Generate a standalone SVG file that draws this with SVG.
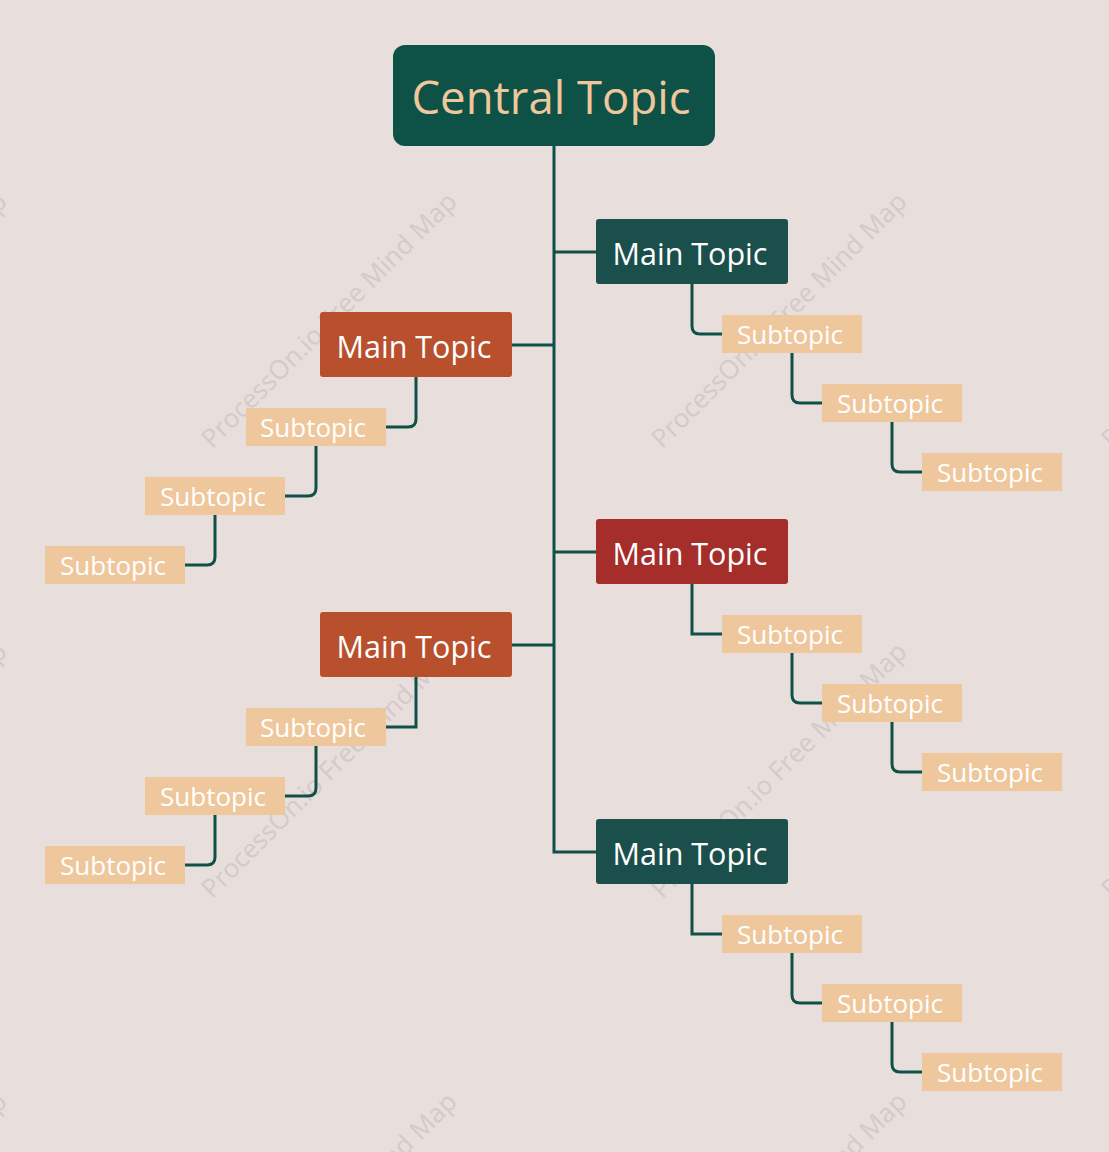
<svg xmlns="http://www.w3.org/2000/svg" width="1109" height="1152" viewBox="0 0 1109 1152">
<style>
.wm{font-family:"Open Sans","Noto Sans",sans-serif;font-size:26px;fill:#d4cac9;text-anchor:middle}
.ct{font-family:"Open Sans","Noto Sans",sans-serif;font-size:45.5px;fill:#efc79c;text-anchor:middle}
.mt{font-family:"Open Sans","Noto Sans",sans-serif;font-size:30.5px;fill:#ffffff;text-anchor:middle}
.st{font-family:"Open Sans","Noto Sans",sans-serif;font-size:26px;fill:#ffffff;text-anchor:middle}
.sub{fill:#efc79c}
.ln{fill:none;stroke:#0e5147;stroke-width:3}
</style>
<rect width="1109" height="1152" fill="#e8dedc"/>
<g id="watermarks">
<text class="wm" transform="rotate(-45 -121 320)" x="-121" y="329">ProcessOn.io Free Mind Map</text>
<text class="wm" transform="rotate(-45 329 320)" x="329" y="329">ProcessOn.io Free Mind Map</text>
<text class="wm" transform="rotate(-45 779 320)" x="779" y="329">ProcessOn.io Free Mind Map</text>
<text class="wm" transform="rotate(-45 1229 320)" x="1229" y="329">ProcessOn.io Free Mind Map</text>
<text class="wm" transform="rotate(-45 -121 770)" x="-121" y="779">ProcessOn.io Free Mind Map</text>
<text class="wm" transform="rotate(-45 329 770)" x="329" y="779">ProcessOn.io Free Mind Map</text>
<text class="wm" transform="rotate(-45 779 770)" x="779" y="779">ProcessOn.io Free Mind Map</text>
<text class="wm" transform="rotate(-45 1229 770)" x="1229" y="779">ProcessOn.io Free Mind Map</text>
<text class="wm" transform="rotate(-45 -121 1220)" x="-121" y="1229">ProcessOn.io Free Mind Map</text>
<text class="wm" transform="rotate(-45 329 1220)" x="329" y="1229">ProcessOn.io Free Mind Map</text>
<text class="wm" transform="rotate(-45 779 1220)" x="779" y="1229">ProcessOn.io Free Mind Map</text>
<text class="wm" transform="rotate(-45 1229 1220)" x="1229" y="1229">ProcessOn.io Free Mind Map</text>
</g>
<g id="connectors">
<path class="ln" d="M554 146 V852 H596"/>
<path class="ln" d="M554 252 H596"/>
<path class="ln" d="M554 345 H512"/>
<path class="ln" d="M554 552 H596"/>
<path class="ln" d="M554 645 H512"/>
<path class="ln" d="M692 284 V326 Q692 334 700 334 H722"/>
<path class="ln" d="M792 353 V395 Q792 403 800 403 H822"/>
<path class="ln" d="M892 422 V464 Q892 472 900 472 H922"/>
<path class="ln" d="M692 584 V634 H722"/>
<path class="ln" d="M792 653 V695 Q792 703 800 703 H822"/>
<path class="ln" d="M892 722 V764 Q892 772 900 772 H922"/>
<path class="ln" d="M692 884 V934 H722"/>
<path class="ln" d="M792 953 V995 Q792 1003 800 1003 H822"/>
<path class="ln" d="M892 1022 V1064 Q892 1072 900 1072 H922"/>
<path class="ln" d="M416 377 V419 Q416 427 408 427 H386"/>
<path class="ln" d="M316 446 V488 Q316 496 308 496 H285"/>
<path class="ln" d="M215 515 V557 Q215 565 207 565 H185"/>
<path class="ln" d="M416 677 V727 H386"/>
<path class="ln" d="M316 746 V788 Q316 796 308 796 H285"/>
<path class="ln" d="M215 815 V857 Q215 865 207 865 H185"/>
</g>
<g id="central">
<rect x="393" y="45" width="322" height="101" rx="12" fill="#0e5147"/>
<text class="ct" x="551" y="114">Central Topic</text>
</g>
<g id="main-r1">
<rect x="596" y="219" width="192" height="65" rx="3" fill="#1b4f4b"/>
<text class="mt" x="690" y="265">Main Topic</text>
</g>
<g id="main-l1">
<rect x="320" y="312" width="192" height="65" rx="3" fill="#b84f2d"/>
<text class="mt" x="414" y="358">Main Topic</text>
</g>
<g id="main-r2">
<rect x="596" y="519" width="192" height="65" rx="3" fill="#a52d2a"/>
<text class="mt" x="690" y="565">Main Topic</text>
</g>
<g id="main-l2">
<rect x="320" y="612" width="192" height="65" rx="3" fill="#b84f2d"/>
<text class="mt" x="414" y="658">Main Topic</text>
</g>
<g id="main-r3">
<rect x="596" y="819" width="192" height="65" rx="3" fill="#1b4f4b"/>
<text class="mt" x="690" y="865">Main Topic</text>
</g>
<g id="sub-r1-1"><rect class="sub" x="722" y="315" width="140" height="38"/><text class="st" x="790" y="344">Subtopic</text></g>
<g id="sub-r1-2"><rect class="sub" x="822" y="384" width="140" height="38"/><text class="st" x="890" y="413">Subtopic</text></g>
<g id="sub-r1-3"><rect class="sub" x="922" y="453" width="140" height="38"/><text class="st" x="990" y="482">Subtopic</text></g>
<g id="sub-r2-1"><rect class="sub" x="722" y="615" width="140" height="38"/><text class="st" x="790" y="644">Subtopic</text></g>
<g id="sub-r2-2"><rect class="sub" x="822" y="684" width="140" height="38"/><text class="st" x="890" y="713">Subtopic</text></g>
<g id="sub-r2-3"><rect class="sub" x="922" y="753" width="140" height="38"/><text class="st" x="990" y="782">Subtopic</text></g>
<g id="sub-r3-1"><rect class="sub" x="722" y="915" width="140" height="38"/><text class="st" x="790" y="944">Subtopic</text></g>
<g id="sub-r3-2"><rect class="sub" x="822" y="984" width="140" height="38"/><text class="st" x="890" y="1013">Subtopic</text></g>
<g id="sub-r3-3"><rect class="sub" x="922" y="1053" width="140" height="38"/><text class="st" x="990" y="1082">Subtopic</text></g>
<g id="sub-l1-1"><rect class="sub" x="246" y="408" width="140" height="38"/><text class="st" x="313" y="437">Subtopic</text></g>
<g id="sub-l1-2"><rect class="sub" x="145" y="477" width="140" height="38"/><text class="st" x="213" y="506">Subtopic</text></g>
<g id="sub-l1-3"><rect class="sub" x="45" y="546" width="140" height="38"/><text class="st" x="113" y="575">Subtopic</text></g>
<g id="sub-l2-1"><rect class="sub" x="246" y="708" width="140" height="38"/><text class="st" x="313" y="737">Subtopic</text></g>
<g id="sub-l2-2"><rect class="sub" x="145" y="777" width="140" height="38"/><text class="st" x="213" y="806">Subtopic</text></g>
<g id="sub-l2-3"><rect class="sub" x="45" y="846" width="140" height="38"/><text class="st" x="113" y="875">Subtopic</text></g>
</svg>
